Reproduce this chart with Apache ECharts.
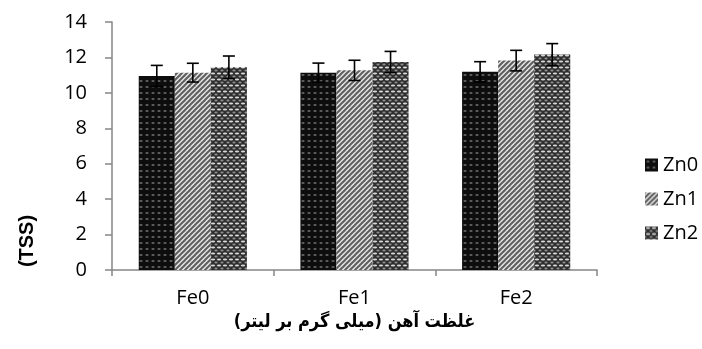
<!DOCTYPE html>
<html>
<head>
<meta charset="utf-8">
<script src="https://cdn.jsdelivr.net/npm/echarts@6/dist/echarts.min.js"></script>
<style>
  html, body { margin: 0; padding: 0; background: #fff; }
  #chart { width: 702px; height: 349px; }
</style>
</head>
<body>
<div id="chart"></div>
<script>
// Iron levels on the category axis, zinc levels as grouped series
const categories = ['Fe0', 'Fe1', 'Fe2'];
const seriesNames = ['Zn0', 'Zn1', 'Zn2'];
const zn0 = [10.95, 11.14, 11.19];
const zn1 = [11.14, 11.27, 11.82];
const zn2 = [11.44, 11.74, 12.16];
const zn0Err = [0.60, 0.54, 0.57];
const zn1Err = [0.53, 0.57, 0.58];
const zn2Err = [0.64, 0.60, 0.62];
const yTicks = [0, 2, 4, 6, 8, 10, 12, 14];
const yTitle = '(TSS)';
const xTitle = '\u200Fغلظت آهن (میلی گرم بر لیتر)\u200F';

const values = [zn0, zn1, zn2];
const errors = [zn0Err, zn1Err, zn2Err];

// Small repeating tiles used as bar fills
function tile(w, h, draw) {
  const c = document.createElement('canvas');
  c.width = w; c.height = h;
  draw(c.getContext('2d'), w, h);
  return { image: c, repeat: 'repeat' };
}
const fillZn0 = tile(6, 6, (g, w, h) => {
  g.fillStyle = '#0d0d0d'; g.fillRect(0, 0, w, h);
  g.fillStyle = '#5a5a5a'; g.fillRect(2, 2, 2, 2);
  g.fillStyle = '#2a2a2a'; g.fillRect(1, 2, 1, 2); g.fillRect(4, 2, 1, 2);
});
const fillZn1 = tile(5, 5, (g, w, h) => {
  g.fillStyle = '#e6e6e6'; g.fillRect(0, 0, w, h);
  g.strokeStyle = '#5e5e5e'; g.lineWidth = 2;
  for (let k = -2; k <= 2; k++) {
    g.beginPath();
    g.moveTo(k * w - 1, h + 1);
    g.lineTo(k * w + w + 1, -1);
    g.stroke();
  }
});
const fillZn2 = tile(6, 6, (g, w, h) => {
  g.fillStyle = '#2e2e2e'; g.fillRect(0, 0, w, h);
  g.fillStyle = '#d8d8d8';
  g.beginPath(); g.ellipse(3, 1.5, 2.2, 1.1, 0, 0, Math.PI * 2); g.fill();
  g.fillStyle = '#909090';
  g.beginPath(); g.ellipse(0, 4.5, 1.6, 1, 0, 0, Math.PI * 2); g.fill();
  g.beginPath(); g.ellipse(6, 4.5, 1.6, 1, 0, 0, Math.PI * 2); g.fill();
});
const fills = [fillZn0, fillZn1, fillZn2];

const BAR_FRAC = 0.223;
const FONT = '"Open Sans", "Liberation Sans", sans-serif';

const barSeries = seriesNames.map((name, i) => ({
  name: name,
  type: 'bar',
  barWidth: (BAR_FRAC * 100) + '%',
  barGap: '0%',
  itemStyle: { color: fills[i] },
  data: values[i],
  z: 2
}));

// Error bars drawn at each bar's centre
const errSeries = seriesNames.map((name, i) => ({
  name: name + ' err',
  type: 'custom',
  z: 5,
  data: values[i].map((v, j) => [j, v, errors[i][j]]),
  renderItem: function (params, api) {
    const cat = api.value(0), v = api.value(1), e = api.value(2);
    const bandW = api.size([1, 0])[0];
    const dx = (i - 1) * bandW * BAR_FRAC;
    const top = api.coord([cat, v + e]);
    const bot = api.coord([cat, v - e]);
    const x = top[0] + dx;
    const cap = 6;
    const st = { stroke: '#000', lineWidth: 1.6 };
    return {
      type: 'group',
      children: [
        { type: 'line', shape: { x1: x, y1: top[1], x2: x, y2: bot[1] }, style: st },
        { type: 'line', shape: { x1: x - cap, y1: top[1], x2: x + cap, y2: top[1] }, style: st },
        { type: 'line', shape: { x1: x - cap, y1: bot[1], x2: x + cap, y2: bot[1] }, style: st }
      ]
    };
  }
}));

const chart = echarts.init(document.getElementById('chart'));
chart.setOption({
  animation: false,
  backgroundColor: '#fff',
  grid: { left: 112, right: 105, top: 22, bottom: 79, containLabel: false },
  legend: {
    data: seriesNames,
    orient: 'vertical',
    left: 640,
    top: 150,
    itemWidth: 13,
    itemHeight: 13,
    itemGap: 14,
    itemSpacing: 6,
    icon: 'rect',
    textStyle: { fontFamily: FONT, fontSize: 20, color: '#000' },
    itemStyle: { borderWidth: 0 }
  },
  xAxis: {
    type: 'category',
    data: categories,
    name: xTitle,
    nameLocation: 'middle',
    nameGap: 42,
    nameTextStyle: { fontFamily: '"DejaVu Sans Condensed", "DejaVu Sans", sans-serif', fontWeight: 'bold', fontSize: 18, color: '#000' },
    axisLine: { lineStyle: { color: '#868686', width: 1.5 } },
    axisTick: { show: true, length: 6, lineStyle: { color: '#868686', width: 1.5 } },
    axisLabel: { fontFamily: FONT, fontSize: 20, color: '#000', margin: 18 },
    splitLine: { show: false }
  },
  yAxis: {
    type: 'value',
    min: yTicks[0],
    max: yTicks[yTicks.length - 1],
    interval: yTicks[1] - yTicks[0],
    axisLine: { show: true, lineStyle: { color: '#868686', width: 1.5 } },
    axisTick: { show: true, length: 7, lineStyle: { color: '#868686', width: 1.5 } },
    axisLabel: { fontFamily: FONT, fontSize: 20, color: '#000', margin: 25 },
    splitLine: { show: false }
  },
  graphic: [{
    type: 'text',
    x: 27,
    y: 241,
    rotation: Math.PI / 2,
    style: {
      text: yTitle,
      fontFamily: '"Liberation Sans", sans-serif',
      fontWeight: 'bold',
      fontSize: 20,
      fill: '#000',
      align: 'center',
      verticalAlign: 'middle'
    }
  }],
  series: barSeries.concat(errSeries)
});
</script>
</body>
</html>
